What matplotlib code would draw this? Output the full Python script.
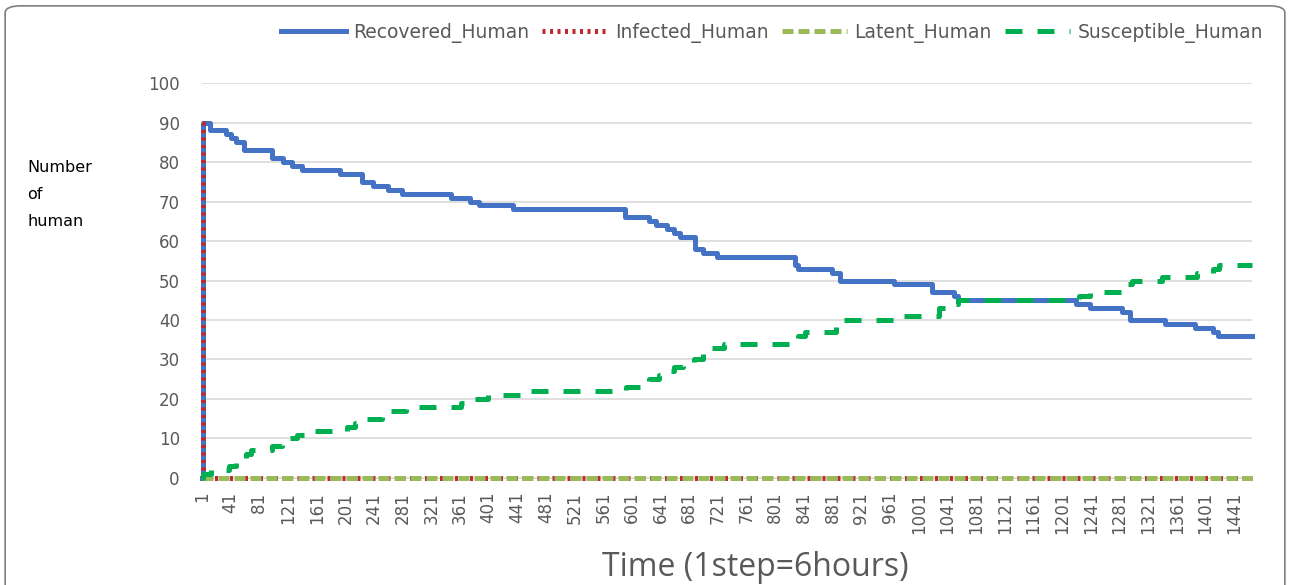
import numpy as np
import matplotlib
matplotlib.use('Agg')
import matplotlib.pyplot as plt
from matplotlib.patches import FancyBboxPatch

# ==========================================
# DATA (step where a value starts, value)
# ==========================================
N_STEPS = 1466

recovered_steps = [1, 2, 12, 35, 42, 49, 59, 98, 114, 126, 140, 194, 224, 240, 261, 280,
                   349, 375, 387, 435, 591, 624, 635, 650, 660, 668, 689, 700, 719, 828,
                   832, 880, 891, 966, 1020, 1050, 1056, 1221, 1240, 1284, 1296, 1345,
                   1387, 1412, 1419]
recovered_vals = [0, 90, 88, 87, 86, 85, 83, 81, 80, 79, 78, 77, 75, 74, 73, 72,
                  71, 70, 69, 68, 66, 65, 64, 63, 62, 61, 58, 57, 56, 54,
                  53, 52, 50, 49, 47, 46, 45, 44, 43, 42, 40, 39,
                  38, 37, 36]

infected_steps = [1, 2]
infected_vals = [90, 0]

latent_steps = [1]
latent_vals = [0]

susceptible_steps = [1, 3, 14, 38, 48, 56, 62, 70, 98, 112, 124, 134, 145, 203, 214, 222,
                     252, 264, 285, 362, 372, 400, 445, 592, 612, 625, 638, 648, 660, 672,
                     688, 700, 712, 730, 832, 842, 885, 892, 980, 1030, 1045, 1056, 1225,
                     1240, 1285, 1298, 1340, 1390, 1412, 1420]
susceptible_vals = [0, 1, 2, 3, 4, 5, 6, 7, 8, 9, 10, 11, 12, 13, 14, 15,
                    16, 17, 18, 19, 20, 21, 22, 23, 24, 25, 26, 27, 28, 29,
                    30, 32, 33, 34, 36, 37, 39, 40, 41, 43, 44, 45, 46,
                    47, 49, 50, 51, 52, 53, 54]

x_ticks = list(range(1, 1442, 40))
y_ticks = list(range(0, 101, 10))

GRAY_TXT = '#595959'
plt.rcParams['font.family'] = ['DejaVu Sans']


def close_series(steps, vals):
    # hold the last value to the end of the run
    return steps + [N_STEPS], vals + [vals[-1]]


fig = plt.figure(figsize=(12.9, 5.85), dpi=100)
ax = fig.add_axes([0.1566, 0.183, 0.8139, 0.675])

lw = 3.6
x, y = close_series(recovered_steps, recovered_vals)
ax.step(x, y, where='post', color='#4472C4', lw=lw, label='Recovered_Human',
        zorder=3, clip_on=False)
x, y = close_series(infected_steps, infected_vals)
ax.step(x, y, where='post', color='#C0282D', lw=lw, linestyle=(0, (0.6, 0.9)),
        label='Infected_Human', zorder=4, clip_on=False)
x, y = close_series(latent_steps, latent_vals)
ax.step(x, y, where='post', color='#9BBB59', lw=lw, linestyle=(0, (2.2, 1.0)),
        label='Latent_Human', zorder=5, clip_on=False)
x, y = close_series(susceptible_steps, susceptible_vals)
ax.step(x, y, where='post', color='#00B050', lw=lw, linestyle=(0, (3.4, 3.0)),
        label='Susceptible_Human', zorder=6, clip_on=False)

ax.set_xlim(1, N_STEPS)
ax.set_ylim(0, 100)
ax.set_yticks(y_ticks)
ax.set_xticks(x_ticks)
ax.set_xticklabels([str(v) for v in x_ticks], rotation=90)
ax.tick_params(axis='both', length=0, labelsize=12, labelcolor=GRAY_TXT)
ax.tick_params(axis='y', pad=16)
ax.tick_params(axis='x', pad=10)
ax.grid(axis='y', color='#D9D9D9', lw=1.2)
ax.set_axisbelow(True)
for s in ['top', 'right', 'left']:
    ax.spines[s].set_visible(False)
ax.spines['bottom'].set_color('#D9D9D9')

ax.set_xlabel('Time (1step=6hours)', fontsize=23, color=GRAY_TXT, family='Open Sans')
ax.xaxis.set_label_coords(0.527, -0.185)
fig.text(0.021, 0.727, 'Number\nof\nhuman', fontsize=11.5, color='black',
         ha='left', va='top', linespacing=2.0)

fig.legend(loc='upper right', bbox_to_anchor=(0.992, 0.99), ncol=4, frameon=False,
           fontsize=13.5, handlelength=3.5, columnspacing=0.7, handletextpad=0.37,
           labelcolor=GRAY_TXT)

# rounded frame around the figure
frame = FancyBboxPatch((0.004, -0.05), 0.992, 1.04, boxstyle='round,pad=0,rounding_size=0.012',
                       transform=fig.transFigure, fill=False, edgecolor='#7F7F7F', lw=1.2)
fig.patches.append(frame)

plt.savefig('out.png', dpi=100)
